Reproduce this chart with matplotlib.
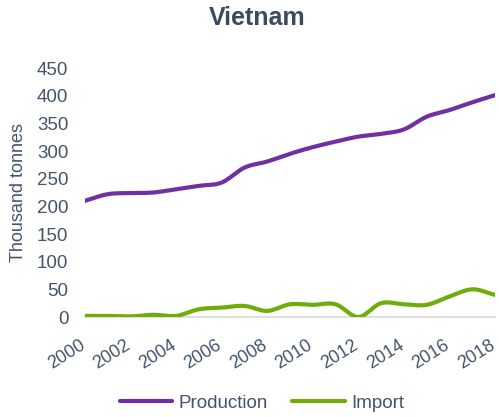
import numpy as np
import matplotlib
matplotlib.use("Agg")
import matplotlib.pyplot as plt
from matplotlib.transforms import ScaledTranslation

years = list(range(2000, 2019))
production = [210, 222, 224, 225, 231, 237, 243, 270, 281, 295, 307, 317, 326, 331, 339, 362, 374, 388, 401]
imports = [2, 2, 1, 4, 2, 14, 17, 20, 11, 23, 22, 23, 0, 25, 23, 22, 37, 50, 40]
tick_years = list(range(2000, 2019, 2))
y_ticks = list(range(0, 451, 50))

TEXT = "#44546a"
PURPLE = "#7030a0"
GREEN = "#70ad0a"

plt.rcParams["font.family"] = ["Liberation Sans", "DejaVu Sans"]


def smooth(x, y, n=20):
    """Catmull-Rom curve through the given points (Excel-style smoothed line)."""
    x = np.asarray(x, float)
    y = np.asarray(y, float)
    px = np.concatenate([[2 * x[0] - x[1]], x, [2 * x[-1] - x[-2]]])
    py = np.concatenate([[2 * y[0] - y[1]], y, [2 * y[-1] - y[-2]]])
    t = np.linspace(0, 1, n, endpoint=False)
    xs, ys = [], []
    for i in range(1, len(px) - 2):
        for p, out in ((px, xs), (py, ys)):
            p0, p1, p2, p3 = p[i - 1], p[i], p[i + 1], p[i + 2]
            out.extend(0.5 * ((2 * p1) + (-p0 + p2) * t
                              + (2 * p0 - 5 * p1 + 4 * p2 - p3) * t ** 2
                              + (-p0 + 3 * p1 - 3 * p2 + p3) * t ** 3))
    xs.append(x[-1])
    ys.append(y[-1])
    return np.array(xs), np.array(ys)


fig = plt.figure(figsize=(4.99, 4.17), dpi=100)
ax = fig.add_axes([0.1703, 0.2398, 0.8217, 0.5971])

sx, sy = smooth(years, production)
ax.plot(sx, sy, color=PURPLE, lw=3, solid_capstyle="round", label="Production")
sx, sy = smooth(years, imports)
ax.plot(sx, sy, color=GREEN, lw=3, solid_capstyle="round", label="Import")

ax.set_xlim(2000, 2018)
ax.set_ylim(0, 450)
ax.set_xticks(tick_years)
ax.set_xticklabels([str(y) for y in tick_years], rotation=32, ha="right",
                   rotation_mode="anchor", fontsize=13, color=TEXT)
ax.set_yticks(y_ticks)
ax.set_yticklabels([str(v) for v in y_ticks], fontsize=13.5, color=TEXT)
ax.tick_params(axis="both", length=0)
ax.tick_params(axis="y", pad=12)
ax.tick_params(axis="x", pad=14)

# nudge the rotated year labels left so their corners sit under the ticks
shift = ScaledTranslation(-6 / 100, 0, fig.dpi_scale_trans)
for lbl in ax.get_xticklabels():
    lbl.set_transform(lbl.get_transform() + shift)

for side in ("top", "right", "left"):
    ax.spines[side].set_visible(False)
ax.spines["bottom"].set_color("#d9d9d9")
ax.spines["bottom"].set_linewidth(1.2)
ax.spines["bottom"].set_zorder(0)

ax.set_ylabel("Thousand tonnes", fontsize=13, color=TEXT)
ax.yaxis.set_label_coords(-0.141, 0.5)
fig.suptitle("Vietnam", x=0.515, y=0.985, fontsize=18, fontweight="bold", color="#3b4a5c")

fig.legend(loc="center", bbox_to_anchor=(0.525, 0.033), ncol=2, frameon=False,
           fontsize=13.5, labelcolor=TEXT, handlelength=2.8, handletextpad=0.35,
           columnspacing=1.3)

fig.savefig("out.png", dpi=100)
